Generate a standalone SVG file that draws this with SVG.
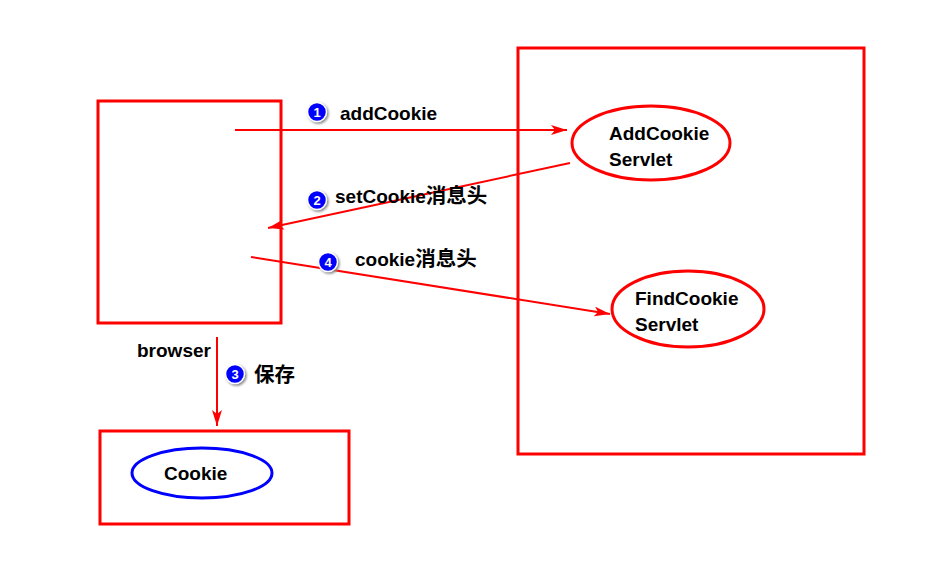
<svg xmlns="http://www.w3.org/2000/svg" width="943" height="562" viewBox="0 0 943 562">
<defs>
<marker id="ah" markerWidth="16" markerHeight="10" refX="16" refY="5" orient="auto" markerUnits="userSpaceOnUse">
<path d="M0,0 L16,5 L0,10 L4,5 Z" fill="#ff0000"/>
</marker>
<filter id="sh" x="-50%" y="-50%" width="200%" height="200%">
<feDropShadow dx="1.5" dy="1.5" stdDeviation="1" flood-color="#888"/>
</filter>
</defs>
<style>
.box{fill:none;stroke:#ff0000;stroke-width:3}
.ell{fill:#fff;stroke:#ff0000;stroke-width:3}
.conn{stroke:#ff0000;stroke-width:2;fill:none}
.t{font-family:"Liberation Sans",Arial,"Noto Sans CJK SC",sans-serif;font-weight:bold;font-size:19px;fill:#000}
.cjk{font-family:"Noto Sans CJK SC",sans-serif;font-size:20.5px}
.bc{fill:#0000ff;stroke:#fff;stroke-width:1.5}
.bt{font-family:"Liberation Sans",Arial,sans-serif;font-weight:bold;font-size:13px;fill:#fff;text-anchor:middle}
</style>
<rect width="943" height="562" fill="#fff"/>
<g id="server">
<rect class="box" x="518" y="48" width="346" height="406"/>
</g>
<g id="browser">
<rect class="box" x="98" y="101" width="183" height="222"/>
<text class="t" x="137" y="357">browser</text>
</g>
<g id="cookiebox">
<rect class="box" x="100" y="431" width="249" height="93"/>
</g>
<g id="cookie">
<ellipse cx="202" cy="473" rx="70" ry="25" fill="#fff" stroke="#0000ff" stroke-width="3"/>
<text class="t" x="164" y="480">Cookie</text>
</g>
<g id="addcookie">
<ellipse class="ell" cx="651" cy="143" rx="79" ry="37"/>
<text class="t" x="609" y="140">AddCookie</text>
<text class="t" x="609" y="166">Servlet</text>
</g>
<g id="findcookie">
<ellipse class="ell" cx="688" cy="309" rx="76" ry="38"/>
<text class="t" x="635" y="305">FindCookie</text>
<text class="t" x="635" y="331">Servlet</text>
</g>
<g id="connectors">
<line class="conn" x1="235" y1="130" x2="567" y2="130" marker-end="url(#ah)"/>
<line class="conn" x1="570" y1="163" x2="268" y2="228" marker-end="url(#ah)"/>
<line class="conn" x1="251" y1="257" x2="610" y2="314" marker-end="url(#ah)"/>
<line class="conn" x1="217" y1="337" x2="217" y2="426" marker-end="url(#ah)"/>
</g>
<g id="labels">
<g filter="url(#sh)"><circle class="bc" cx="317" cy="112" r="9.5"/></g>
<text class="bt" x="317" y="116.5">1</text>
<text class="t" x="340" y="120">addCookie</text>
<g filter="url(#sh)"><circle class="bc" cx="317" cy="200" r="9.5"/></g>
<text class="bt" x="317" y="204.5">2</text>
<text class="t" x="335" y="203">setCookie<tspan class="cjk">消息头</tspan></text>
<g filter="url(#sh)"><circle class="bc" cx="235" cy="374" r="9.5"/></g>
<text class="bt" x="235" y="378.5">3</text>
<text class="t" x="254" y="382"><tspan class="cjk">保存</tspan></text>
<g filter="url(#sh)"><circle class="bc" cx="328" cy="262" r="9.5"/></g>
<text class="bt" x="328" y="266.5">4</text>
<text class="t" x="355" y="266">cookie<tspan class="cjk">消息头</tspan></text>
</g>
</svg>
